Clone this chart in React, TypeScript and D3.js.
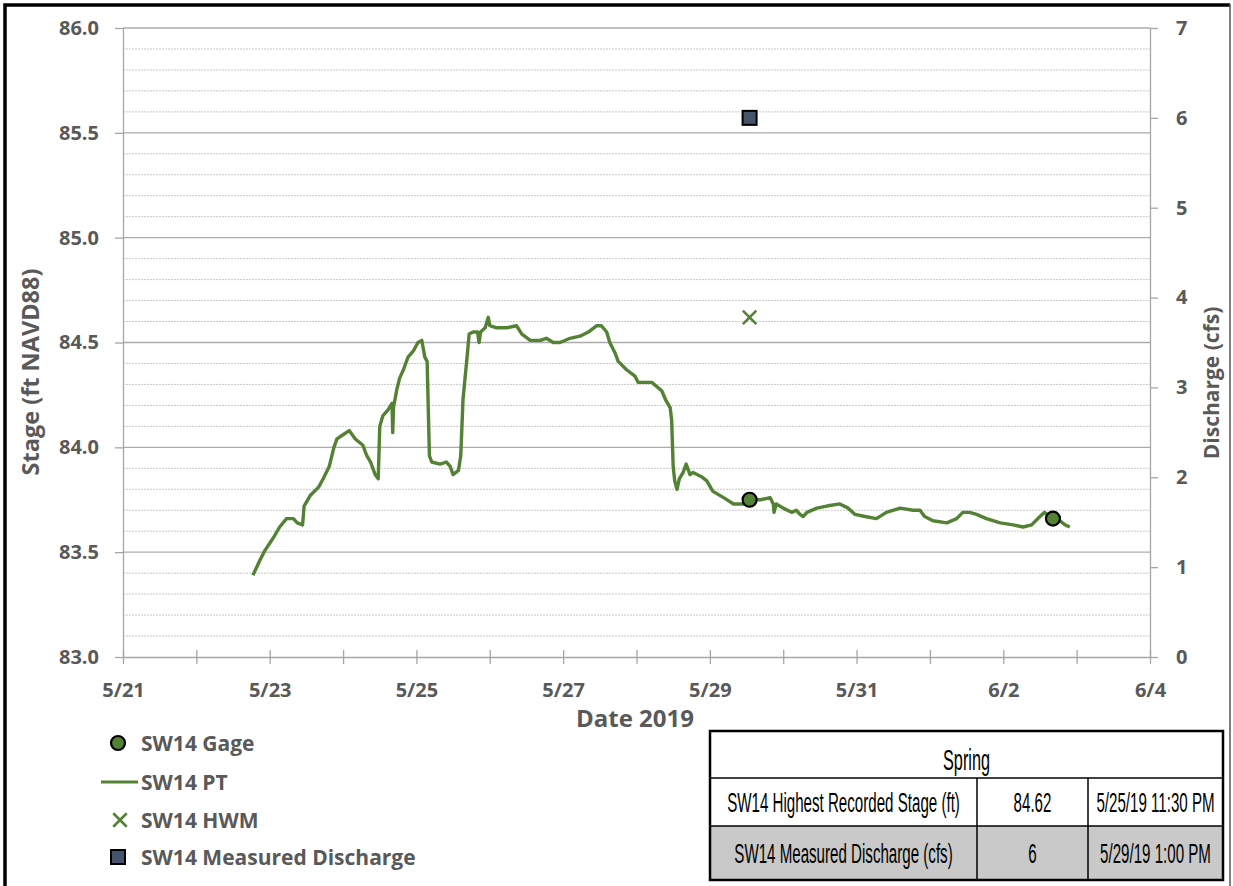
import { useEffect, useRef } from 'react';
import * as d3 from 'd3';

// SW14 PT record, times are 2019
const ptTimes = [
  '05/22 18:30', '05/22 20:45', '05/22 22:30', '05/23 01:15', '05/23 03:15', '05/23 05:30',
  '05/23 07:45', '05/23 09:00', '05/23 10:45', '05/23 11:15', '05/23 13:15', '05/23 16:00',
  '05/23 17:30', '05/23 19:30', '05/23 21:00', '05/23 22:00', '05/24 00:00', '05/24 02:00',
  '05/24 04:00', '05/24 06:30', '05/24 07:45', '05/24 09:00', '05/24 10:30', '05/24 11:30',
  '05/24 12:00', '05/24 13:00', '05/24 14:45', '05/24 16:00', '05/24 16:15', '05/24 16:30',
  '05/24 17:30', '05/24 18:30', '05/24 19:45', '05/24 21:15', '05/24 23:00', '05/25 00:30',
  '05/25 01:45', '05/25 02:45', '05/25 03:30', '05/25 04:15', '05/25 05:00', '05/25 07:45',
  '05/25 09:45', '05/25 11:00', '05/25 12:00', '05/25 13:45', '05/25 14:30', '05/25 15:15',
  '05/25 16:30', '05/25 17:15', '05/25 18:30', '05/25 20:00', '05/25 20:30', '05/25 21:00',
  '05/25 22:30', '05/25 23:30', '05/26 00:00', '05/26 02:15', '05/26 05:30', '05/26 08:45',
  '05/26 10:30', '05/26 13:15', '05/26 16:30', '05/26 18:30', '05/26 20:45', '05/26 23:00',
  '05/27 02:15', '05/27 05:30', '05/27 08:15', '05/27 11:00', '05/27 12:30', '05/27 14:15',
  '05/27 15:15', '05/27 17:00', '05/27 18:00', '05/27 20:45', '05/27 23:30', '05/28 00:30',
  '05/28 02:15', '05/28 05:00', '05/28 08:15', '05/28 09:45', '05/28 11:00', '05/28 11:30',
  '05/28 12:00', '05/28 12:30', '05/28 13:15', '05/28 14:00', '05/28 15:15', '05/28 16:15',
  '05/28 17:30', '05/28 18:30', '05/28 21:15', '05/28 23:00', '05/29 01:00', '05/29 04:30',
  '05/29 07:45', '05/29 11:00', '05/29 13:00', '05/29 16:30', '05/29 19:45', '05/29 20:45',
  '05/29 21:00', '05/29 21:45', '05/30 00:00', '05/30 02:45', '05/30 04:15', '05/30 05:30',
  '05/30 06:30', '05/30 07:45', '05/30 11:00', '05/30 14:15', '05/30 18:30', '05/30 21:15',
  '05/30 23:30', '05/31 02:45', '05/31 06:30', '05/31 09:45', '05/31 14:15', '05/31 18:30',
  '05/31 20:45', '05/31 22:15', '06/01 01:00', '06/01 05:30', '06/01 08:45', '06/01 10:45',
  '06/01 13:00', '06/01 15:15', '06/01 18:30', '06/01 23:00', '06/02 03:15', '06/02 06:30',
  '06/02 09:15', '06/02 12:00', '06/02 13:30', '06/02 16:15', '06/02 18:30', '06/02 20:15',
  '06/02 21:45',
];
const ptStage = [
  83.39, 83.46, 83.51, 83.57, 83.62, 83.66,
  83.66, 83.64, 83.63, 83.72, 83.77, 83.81,
  83.85, 83.91, 84.0, 84.04, 84.06, 84.08,
  84.04, 84.01, 83.96, 83.93, 83.87, 83.85,
  84.1, 84.15, 84.18, 84.21, 84.07, 84.19,
  84.27, 84.33, 84.37, 84.43, 84.46, 84.5,
  84.51, 84.43, 84.41, 83.96, 83.93, 83.92,
  83.93, 83.91, 83.87, 83.89, 83.96, 84.23,
  84.42, 84.54, 84.55, 84.55, 84.5, 84.55,
  84.57, 84.62, 84.58, 84.57, 84.57, 84.58,
  84.54, 84.51, 84.51, 84.52, 84.5, 84.5,
  84.52, 84.53, 84.55, 84.58, 84.58, 84.55,
  84.5, 84.45, 84.41, 84.37, 84.34, 84.31,
  84.31, 84.31, 84.27, 84.22, 84.19, 84.13,
  83.91, 83.84, 83.8, 83.85, 83.88, 83.92,
  83.87, 83.88, 83.86, 83.84, 83.79, 83.76,
  83.73, 83.73, 83.75, 83.75, 83.76, 83.73,
  83.69, 83.73, 83.71, 83.69, 83.7, 83.68,
  83.67, 83.69, 83.71, 83.72, 83.73, 83.71,
  83.68, 83.67, 83.66, 83.69, 83.71, 83.7,
  83.7, 83.67, 83.65, 83.64, 83.66, 83.69,
  83.69, 83.68, 83.66, 83.64, 83.63, 83.62,
  83.63, 83.67, 83.69, 83.66, 83.65, 83.63,
  83.62,
];

const gageTimes = ['05/29 13:00', '06/02 16:15'];
const gageStage = [83.75, 83.66];
const hwmTimes = ['05/29 13:00'];
const hwmStage = [84.62];
const dischargeTimes = ['05/29 13:00'];
const dischargeCfs = [6];

const stageTicks = [83.0, 83.5, 84.0, 84.5, 85.0, 85.5, 86.0];
const dischargeTicks = [0, 1, 2, 3, 4, 5, 6, 7];
const dateLabels = ['5/21', '5/23', '5/25', '5/27', '5/29', '5/31', '6/2', '6/4'];
const legendLabels = ['SW14 Gage', 'SW14 PT', 'SW14 HWM', 'SW14 Measured Discharge'];

const tableTitle = 'Spring';
const tableRows = [
  ['SW14 Highest Recorded Stage (ft)', '84.62', '5/25/19 11:30 PM'],
  ['SW14 Measured Discharge (cfs)', '6', '5/29/19 1:00 PM'],
];

const GREEN = '#548235';
const AXIS_TEXT = '#595959';
const FONT = '"Open Sans", "DejaVu Sans", sans-serif';
const TABLE_FONT = '"Liberation Sans", Arial, sans-serif';

const parseTime = d3.timeParse('%Y/%m/%d %H:%M');
const toDate = (s: string) => parseTime('2019/' + s)!;

export default function App() {
  const svgRef = useRef<SVGSVGElement | null>(null);

  useEffect(() => {
    const width = 1233;
    const height = 886;
    const margin = { top: 28, right: 83, bottom: 229, left: 123 };

    const svg = d3.select(svgRef.current);
    svg.selectAll('*').remove();
    svg.attr('width', width).attr('height', height);

    const x = d3.scaleTime()
      .domain([new Date(2019, 4, 21), new Date(2019, 5, 4)])
      .range([margin.left, width - margin.right]);
    const y = d3.scaleLinear().domain([83, 86]).range([height - margin.bottom, margin.top]);
    const y2 = d3.scaleLinear().domain([0, 7]).range([height - margin.bottom, margin.top]);

    const x0 = margin.left;
    const x1 = width - margin.right;
    const yb = height - margin.bottom;

    // frame
    svg.append('rect').attr('width', width).attr('height', height).attr('fill', '#fff');
    svg.append('path')
      .attr('d', `M5,${height} V5 H1230`)
      .attr('fill', 'none')
      .attr('stroke', '#000')
      .attr('stroke-width', 3.5);
    svg.append('line')
      .attr('x1', 1230).attr('x2', 1230).attr('y1', 4).attr('y2', height)
      .attr('stroke', '#555').attr('stroke-width', 1.5);

    // minor gridlines (every 0.1 ft)
    const minor = d3.range(831, 860).map(v => v / 10).filter(v => Math.round(v * 10) % 5 !== 0);
    svg.append('g')
      .selectAll('line')
      .data(minor)
      .enter()
      .append('line')
      .attr('x1', x0).attr('x2', x1)
      .attr('y1', d => y(d)).attr('y2', d => y(d))
      .attr('stroke', '#c8c8c8')
      .attr('stroke-width', 1)
      .attr('stroke-dasharray', '2,1');

    // major gridlines
    svg.append('g')
      .selectAll('line')
      .data(stageTicks.slice(1))
      .enter()
      .append('line')
      .attr('x1', x0).attr('x2', x1)
      .attr('y1', d => y(d)).attr('y2', d => y(d))
      .attr('stroke', '#ababab')
      .attr('stroke-width', 1.3);

    const styleTicks = (sel: d3.Selection<any, any, any, any>) =>
      sel.attr('fill', AXIS_TEXT)
        .style('font-family', FONT)
        .style('font-weight', 700)
        .style('font-size', '20px');

    // left axis
    const gl = svg.append('g')
      .attr('transform', `translate(${x0},0)`)
      .call(d3.axisLeft(y).tickValues(stageTicks).tickFormat(d3.format('.1f')).tickSize(8).tickSizeOuter(0).tickPadding(16));
    gl.select('.domain').attr('stroke', '#a6a6a6').attr('stroke-width', 1.3);
    gl.selectAll('.tick line').attr('stroke', '#a6a6a6').attr('stroke-width', 1.3);
    styleTicks(gl.selectAll('.tick text'));

    // right axis
    const gr = svg.append('g')
      .attr('transform', `translate(${x1},0)`)
      .call(d3.axisRight(y2).tickValues(dischargeTicks).tickFormat(d3.format('d')).tickSize(8).tickSizeOuter(0).tickPadding(18));
    gr.select('.domain').attr('stroke', '#a6a6a6').attr('stroke-width', 1.3);
    gr.selectAll('.tick line').attr('stroke', '#a6a6a6').attr('stroke-width', 1.3);
    styleTicks(gr.selectAll('.tick text'));

    // bottom axis: a tick each day, a label every second day
    const days = d3.timeDay.range(new Date(2019, 4, 21), new Date(2019, 5, 5));
    const gb = svg.append('g')
      .attr('transform', `translate(0,${yb})`)
      .call(d3.axisBottom(x).tickValues(days)
        .tickFormat((_d, i) => (i % 2 === 0 ? dateLabels[i / 2] : ''))
        .tickSizeOuter(0));
    gb.select('.domain').attr('stroke', '#a6a6a6').attr('stroke-width', 1.3);
    gb.selectAll('.tick line')
      .attr('y1', -7).attr('y2', 7)
      .attr('stroke', '#a6a6a6').attr('stroke-width', 1.3);
    styleTicks(gb.selectAll('.tick text').attr('y', 40).attr('dy', 0));

    // axis titles
    svg.append('text')
      .attr('transform', 'translate(39,372) rotate(-90)')
      .attr('text-anchor', 'middle')
      .attr('fill', AXIS_TEXT)
      .style('font-family', FONT)
      .style('font-weight', 700)
      .style('font-size', '23.5px')
      .text('Stage (ft NAVD88)');
    svg.append('text')
      .attr('transform', 'translate(1219,383) rotate(-90)')
      .attr('text-anchor', 'middle')
      .attr('fill', AXIS_TEXT)
      .style('font-family', FONT)
      .style('font-weight', 700)
      .style('font-size', '21px')
      .text('Discharge (cfs)');
    svg.append('text')
      .attr('x', 635).attr('y', 727)
      .attr('text-anchor', 'middle')
      .attr('fill', AXIS_TEXT)
      .style('font-family', FONT)
      .style('font-weight', 700)
      .style('font-size', '24px')
      .text('Date 2019');

    // PT line
    const pt = ptTimes.map((t, i) => ({ date: toDate(t), value: ptStage[i] }));
    const line = d3.line<{ date: Date; value: number }>()
      .x(d => x(d.date))
      .y(d => y(d.value));
    svg.append('path')
      .datum(pt)
      .attr('d', line)
      .attr('fill', 'none')
      .attr('stroke', GREEN)
      .attr('stroke-width', 3.4)
      .attr('stroke-linejoin', 'round');

    // gage points
    svg.append('g')
      .selectAll('circle')
      .data(gageTimes.map((t, i) => ({ date: toDate(t), value: gageStage[i] })))
      .enter()
      .append('circle')
      .attr('cx', d => x(d.date))
      .attr('cy', d => y(d.value))
      .attr('r', 7)
      .attr('fill', GREEN)
      .attr('stroke', '#000')
      .attr('stroke-width', 2.2);

    // high water mark
    const cross = d3.symbol().type(d3.symbolX).size(120);
    svg.append('g')
      .selectAll('path')
      .data(hwmTimes.map((t, i) => ({ date: toDate(t), value: hwmStage[i] })))
      .enter()
      .append('path')
      .attr('d', cross)
      .attr('transform', d => `translate(${x(d.date)},${y(d.value)})`)
      .attr('fill', 'none')
      .attr('stroke', GREEN)
      .attr('stroke-width', 2.6);

    // measured discharge (right axis)
    svg.append('g')
      .selectAll('rect')
      .data(dischargeTimes.map((t, i) => ({ date: toDate(t), value: dischargeCfs[i] })))
      .enter()
      .append('rect')
      .attr('x', d => x(d.date) - 7)
      .attr('y', d => y2(d.value) - 7)
      .attr('width', 14)
      .attr('height', 14)
      .attr('fill', '#44546a')
      .attr('stroke', '#000')
      .attr('stroke-width', 2);

    // legend
    const lg = svg.append('g');
    const rowY = [743, 782, 820, 857];
    legendLabels.forEach((label, i) => {
      const cy = rowY[i];
      if (i === 0) {
        lg.append('circle').attr('cx', 118).attr('cy', cy).attr('r', 7)
          .attr('fill', GREEN).attr('stroke', '#000').attr('stroke-width', 2.2);
      } else if (i === 1) {
        lg.append('line').attr('x1', 101).attr('x2', 138).attr('y1', cy).attr('y2', cy)
          .attr('stroke', GREEN).attr('stroke-width', 3.2);
      } else if (i === 2) {
        lg.append('path').attr('d', cross).attr('transform', `translate(120,${cy})`)
          .attr('fill', 'none').attr('stroke', GREEN).attr('stroke-width', 2.6);
      } else {
        lg.append('rect').attr('x', 111).attr('y', cy - 7).attr('width', 14).attr('height', 14)
          .attr('fill', '#44546a').attr('stroke', '#000').attr('stroke-width', 2);
      }
      lg.append('text')
        .attr('x', 141).attr('y', cy + 8)
        .attr('fill', AXIS_TEXT)
        .style('font-family', FONT)
        .style('font-weight', 700)
        .style('font-size', '21px')
        .text(label);
    });

    // summary table (text squeezed horizontally to look condensed)
    const tb = svg.append('g');
    const cols = [710, 977, 1088, 1223];
    const rows = [731, 778, 826, 880];
    const sx = 0.56;
    tb.append('rect').attr('x', cols[0]).attr('y', rows[2]).attr('width', cols[3] - cols[0])
      .attr('height', rows[3] - rows[2]).attr('fill', '#c9c9c9');
    tb.append('rect').attr('x', cols[0]).attr('y', rows[0]).attr('width', cols[3] - cols[0])
      .attr('height', rows[3] - rows[0]).attr('fill', 'none').attr('stroke', '#000').attr('stroke-width', 2.5);
    [rows[1], rows[2]].forEach(ry => {
      tb.append('line').attr('x1', cols[0]).attr('x2', cols[3]).attr('y1', ry).attr('y2', ry)
        .attr('stroke', '#000').attr('stroke-width', 1.5);
    });
    [cols[1], cols[2]].forEach(cx => {
      tb.append('line').attr('x1', cx).attr('x2', cx).attr('y1', rows[1]).attr('y2', rows[3])
        .attr('stroke', '#000').attr('stroke-width', 1.5);
    });
    tb.append('text')
      .attr('transform', `translate(${(cols[0] + cols[3]) / 2},770) scale(${sx},1)`)
      .attr('text-anchor', 'middle')
      .style('font-family', TABLE_FONT).style('font-size', '29px')
      .text(tableTitle);
    const base = [812, 863];
    tableRows.forEach((r, ri) => {
      r.forEach((cell, ci) => {
        tb.append('text')
          .attr('transform', `translate(${(cols[ci] + cols[ci + 1]) / 2},${base[ri]}) scale(${sx},1)`)
          .attr('text-anchor', 'middle')
          .style('font-family', TABLE_FONT).style('font-size', '27px')
          .text(cell);
      });
    });
  }, []);

  return (
    <div style={{ position: 'absolute', left: 0, top: 0 }}>
      <svg ref={svgRef} style={{ display: 'block' }} />
    </div>
  );
}
